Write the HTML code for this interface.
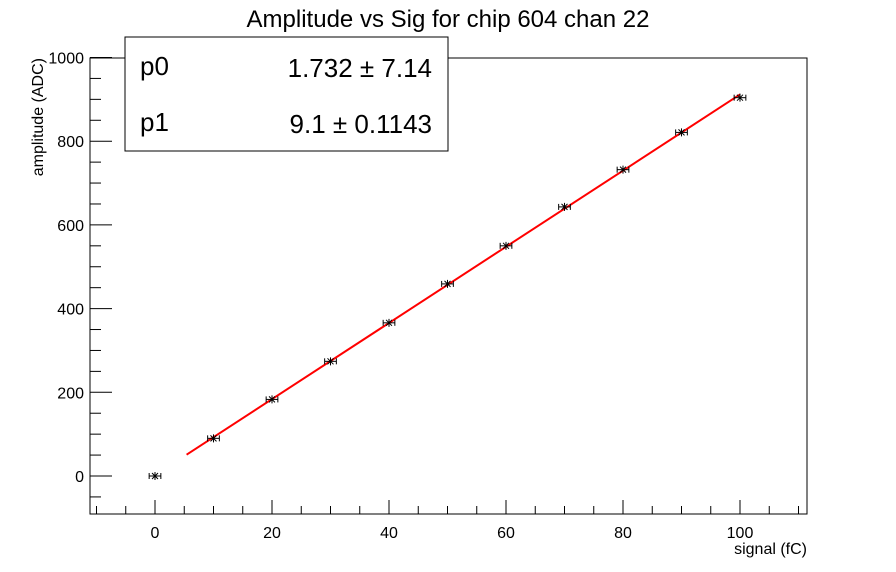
<!DOCTYPE html>
<html><head><meta charset="utf-8"><style>
body{margin:0;background:#fff;}
svg{display:block;font-family:"Liberation Sans",Arial,sans-serif;}
</style></head><body>
<svg id="c" width="896" height="572">
<rect width="896" height="572" fill="#fff"/>
<text x="448" y="27" text-anchor="middle" font-size="24">Amplitude vs Sig for chip 604 chan 22</text>
<rect x="90" y="58" width="717" height="456" fill="none" stroke="#000" stroke-width="1"/>
<g id="axes"></g>
<g id="marks"></g>
<text x="807" y="554" text-anchor="end" font-size="16">signal (fC)</text>
<text transform="translate(43,58) rotate(-90)" text-anchor="end" font-size="16">amplitude (ADC)</text>
<g>
<rect x="125" y="37" width="323" height="114" fill="#fff" stroke="#000" stroke-width="1"/>
<text x="140" y="75" font-size="26">p0</text>
<text x="432" y="77" text-anchor="end" font-size="26">1.732 ±  7.14</text>
<text x="140" y="131" font-size="26">p1</text>
<text x="432" y="133" text-anchor="end" font-size="26">9.1 ± 0.1143</text>
</g>
</svg>
<script>
const xs=[0,10,20,30,40,50,60,70,80,90,100];
const ys=[0,90,183,274,366,459,550,643,732,821,904];
const xErr=[1,1,1,1,1,1,1,1,1,1,1];
const p0=1.732, p1=9.1;
const fitRange=[5.4,100];
const xTicks=[0,20,40,60,80,100];
const yTicks=[0,200,400,600,800,1000];
const NS='http://www.w3.org/2000/svg';
const X=v=>155+v*5.85;
const Y=v=>476-v*0.4185;
function mk(t,a,p){const e=document.createElementNS(NS,t);for(const k in a)e.setAttribute(k,a[k]);p.appendChild(e);return e;}
const ax=document.getElementById('axes'), mg=document.getElementById('marks');
for(let v=-10;v<=110;v+=5){const maj=v%20===0;const x=X(v);if(x<90||x>807)continue;
 const l=mk('line',{x1:x,x2:x,y1:514,y2:514-(maj?14:8),stroke:'#000'},ax);
 }
xTicks.forEach(v=>{const t=mk('text',{x:X(v),y:538,'text-anchor':'middle','font-size':16},ax);t.textContent=v;
 });
for(let v=-50;v<=1000;v+=50){const maj=v%200===0;const y=Y(v);if(y<57||y>514)continue;
 const l=mk('line',{x1:90,x2:90+(maj?22:11),y1:y,y2:y,stroke:'#000'},ax);
 }
yTicks.forEach(v=>{const t=mk('text',{x:84,y:Y(v)+6,'text-anchor':'end','font-size':16},ax);t.textContent=v;
 });
const fl=mk('line',{x1:X(fitRange[0]),y1:Y(p0+p1*fitRange[0]),x2:X(fitRange[1]),y2:Y(p0+p1*fitRange[1]),stroke:'#f00','stroke-width':2},mg);

xs.forEach((v,i)=>{const g=mk('g',{stroke:'#000','stroke-width':1},mg);
 
 const cx=X(v),cy=Y(ys[i]),ex=xErr[i]*5.85;
 mk('line',{x1:cx-ex,x2:cx+ex,y1:cy,y2:cy},g);
 mk('line',{x1:cx-ex,x2:cx-ex,y1:cy-3,y2:cy+3},g);
 mk('line',{x1:cx+ex,x2:cx+ex,y1:cy-3,y2:cy+3},g);
 mk('line',{x1:cx,x2:cx,y1:cy-4,y2:cy+4},g);
 mk('line',{x1:cx-3,x2:cx+3,y1:cy-3,y2:cy+3},g);
 mk('line',{x1:cx-3,x2:cx+3,y1:cy+3,y2:cy-3},g);});
</script>
</body></html>
